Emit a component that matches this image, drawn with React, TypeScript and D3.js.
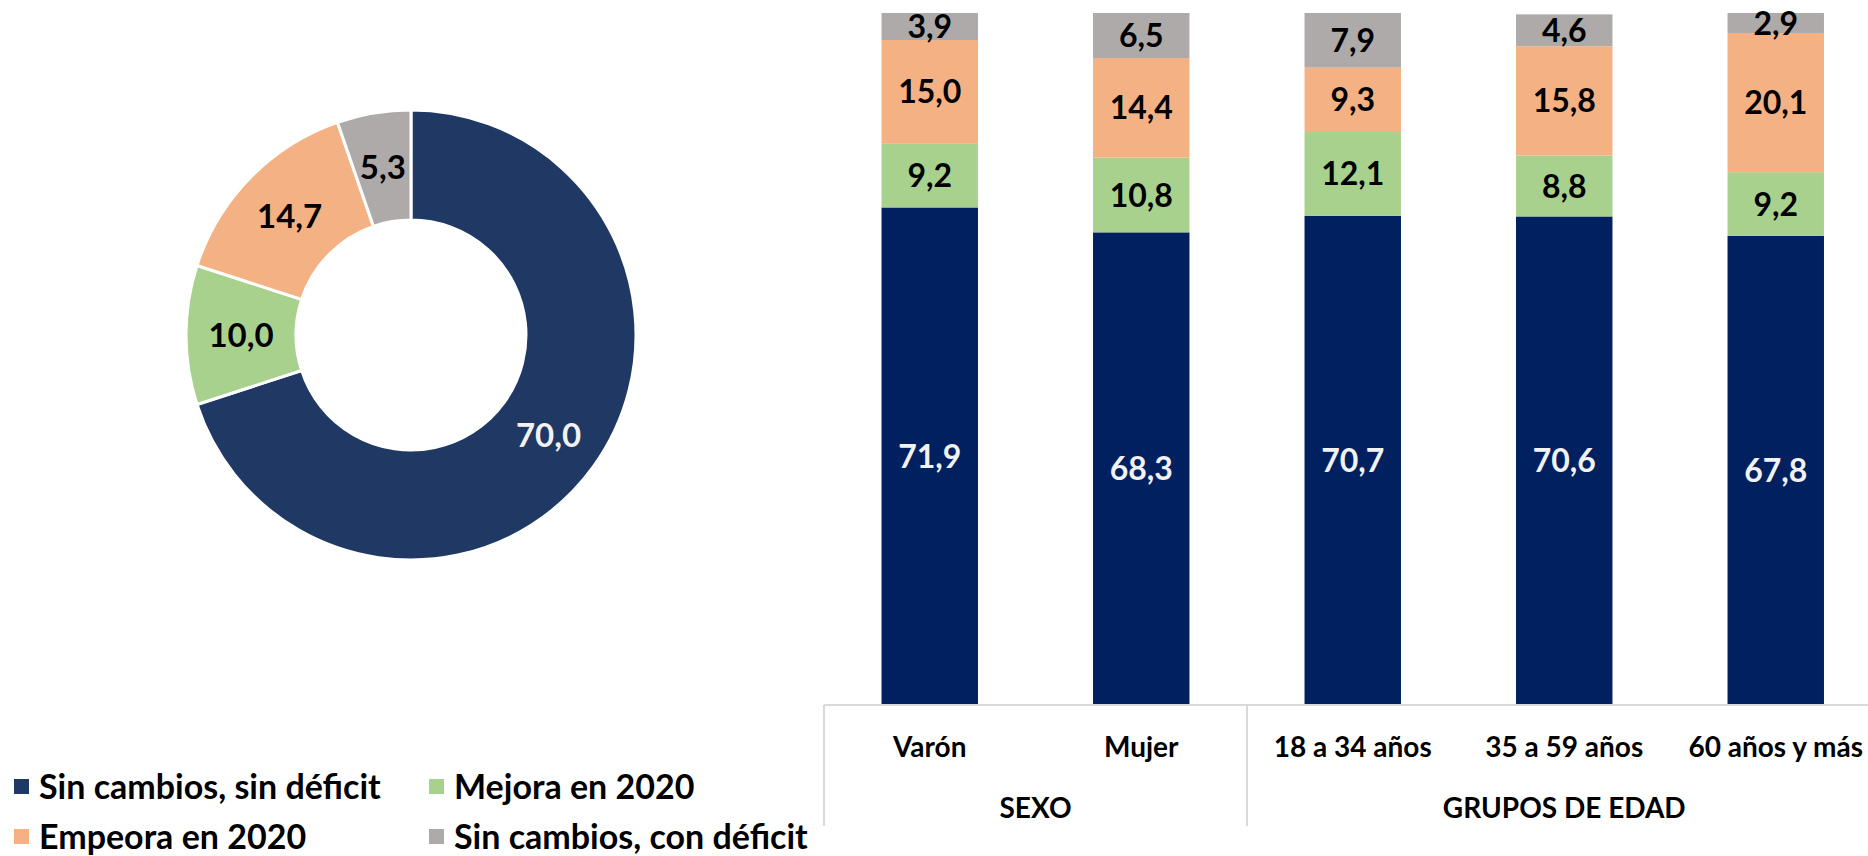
import React, { useEffect, useRef } from "react";
import * as d3 from "d3";

// donut: overall
const seriesNames = ["Sin cambios, sin déficit", "Mejora en 2020", "Empeora en 2020", "Sin cambios, con déficit"];
const totalValues = [70.0, 10.0, 14.7, 5.3];

// stacked bars
const categories = ["Varón", "Mujer", "18 a 34 años", "35 a 59 años", "60 años y más"];
const groups = [
  { name: "SEXO", from: 0, to: 2 },
  { name: "GRUPOS DE EDAD", from: 2, to: 5 },
];
const sinCambiosSin = [71.9, 68.3, 70.7, 70.6, 67.8];
const mejora = [9.2, 10.8, 12.1, 8.8, 9.2];
const empeora = [15.0, 14.4, 9.3, 15.8, 20.1];
const sinCambiosCon = [3.9, 6.5, 7.9, 4.6, 2.9];

const donutColors = ["#203864", "#a9d18e", "#f4b183", "#aeaaaa"];
const barColors = ["#002060", "#a9d18e", "#f4b183", "#aeaaaa"];
const labelColors = ["#f2f2f2", "#000", "#000", "#000"];

const fmt = (v: number) => v.toFixed(1).replace(".", ",");
const FONT = "Lato, 'Open Sans', sans-serif";

function App() {
  const ref = useRef<SVGSVGElement>(null);

  useEffect(() => {
    const svg = d3.select(ref.current);
    svg.selectAll("*").remove();

    // ---- donut
    const cx = 411, cy = 335, outerR = 225, innerR = 115;
    const pie = d3.pie<number>().sort(null).value((d) => d);
    const arc = d3.arc<d3.PieArcDatum<number>>().innerRadius(innerR).outerRadius(outerR);
    const donut = svg.append("g").attr("transform", `translate(${cx},${cy})`);
    const arcs = pie(totalValues);
    donut.selectAll("path")
      .data(arcs)
      .enter()
      .append("path")
      .attr("d", arc)
      .attr("fill", (d, i) => donutColors[i])
      .attr("stroke", "#fff")
      .attr("stroke-width", 3);
    donut.selectAll("text")
      .data(arcs)
      .enter()
      .append("text")
      .attr("x", (d) => arc.centroid(d)[0])
      .attr("y", (d) => arc.centroid(d)[1])
      .attr("dy", "0.36em")
      .attr("text-anchor", "middle")
      .attr("font-family", FONT)
      .attr("font-weight", 700)
      .attr("font-size", 33)
      .attr("fill", (d, i) => labelColors[i])
      .text((d) => fmt(d.data));

    // ---- stacked bars
    const axisY = 705;
    const x = d3.scaleBand().domain(categories).range([824, 1881.5]).paddingInner(0.544).paddingOuter(0.272);
    const y = d3.scaleLinear().domain([0, 100]).range([axisY, 13]);
    const seriesData = [sinCambiosSin, mejora, empeora, sinCambiosCon];
    const rows = categories.map((c, i) => ({ cat: c, s0: seriesData[0][i], s1: seriesData[1][i], s2: seriesData[2][i], s3: seriesData[3][i] }));
    const stack = d3.stack<any>().keys(["s0", "s1", "s2", "s3"]);
    const layers = stack(rows);

    layers.forEach((layer, li) => {
      const g = svg.append("g");
      g.selectAll("rect")
        .data(layer)
        .enter()
        .append("rect")
        .attr("x", (d) => x(d.data.cat)!)
        .attr("y", (d) => y(d[1]))
        .attr("width", x.bandwidth())
        .attr("height", (d) => y(d[0]) - y(d[1]))
        .attr("fill", barColors[li]);
      g.selectAll("text")
        .data(layer)
        .enter()
        .append("text")
        .attr("x", (d) => x(d.data.cat)! + x.bandwidth() / 2)
        .attr("y", (d) => (y(d[0]) + y(d[1])) / 2)
        .attr("dy", "0.36em")
        .attr("text-anchor", "middle")
        .attr("font-family", FONT)
        .attr("font-weight", 700)
        .attr("font-size", 32)
        .attr("fill", labelColors[li])
        .text((d) => fmt(d[1] - d[0]));
    });

    // axis line + group separators
    const step = x.step();
    const x0 = x.range()[0];
    svg.append("line")
      .attr("x1", x0).attr("x2", 1868)
      .attr("y1", axisY).attr("y2", axisY)
      .attr("stroke", "#d9d9d9").attr("stroke-width", 2);
    const sepX = [0, 2, 5].map((k) => x0 + k * step);
    svg.selectAll(".sep")
      .data(sepX)
      .enter()
      .append("line")
      .attr("x1", (d) => d).attr("x2", (d) => d)
      .attr("y1", axisY).attr("y2", 826)
      .attr("stroke", "#d9d9d9").attr("stroke-width", 2);

    svg.selectAll(".cat")
      .data(categories)
      .enter()
      .append("text")
      .attr("x", (d) => x(d)! + x.bandwidth() / 2)
      .attr("y", 747)
      .attr("dy", "0.36em")
      .attr("text-anchor", "middle")
      .attr("font-family", FONT)
      .attr("font-weight", 700)
      .attr("font-size", 28)
      .attr("fill", "#000")
      .text((d) => d);

    svg.selectAll(".grp")
      .data(groups)
      .enter()
      .append("text")
      .attr("x", (d) => x0 + ((d.from + d.to) / 2) * step)
      .attr("y", 808)
      .attr("dy", "0.36em")
      .attr("text-anchor", "middle")
      .attr("font-family", FONT)
      .attr("font-weight", 700)
      .attr("font-size", 28)
      .attr("fill", "#000")
      .text((d) => d.name);

    // ---- legend
    const legendPos = [
      { x: 14, y: 787 },
      { x: 429, y: 787 },
      { x: 14, y: 837 },
      { x: 429, y: 837 },
    ];
    const leg = svg.selectAll(".leg")
      .data(seriesNames)
      .enter()
      .append("g")
      .attr("transform", (d, i) => `translate(${legendPos[i].x},${legendPos[i].y})`);
    leg.append("rect")
      .attr("x", 0).attr("y", -8)
      .attr("width", 15).attr("height", 15)
      .attr("fill", (d, i) => donutColors[i]);
    leg.append("text")
      .attr("x", 25)
      .attr("y", 0)
      .attr("dy", "0.36em")
      .attr("font-family", FONT)
      .attr("font-weight", 700)
      .attr("font-size", 34)
      .attr("fill", "#000")
      .text((d) => d);
  }, []);

  return (
    <svg
      ref={ref}
      width={1868}
      height={856}
      style={{ position: "absolute", left: 0, top: 0, background: "#fff" }}
    />
  );
}

export default App;
